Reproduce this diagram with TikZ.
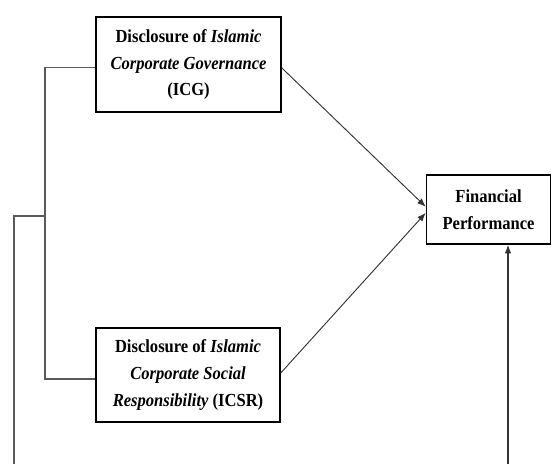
\documentclass[tikz,border=0pt]{standalone}
\usepackage{fontspec}
\setmainfont{Liberation Serif}[FakeStretch=0.9]
\usepackage{tikz}
\usetikzlibrary{arrows.meta,positioning}

\tikzset{
    varbox/.style={draw, line width=1.1pt, align=center, inner sep=0pt,
        font=\fontsize{13.8}{20}\selectfont\bfseries},
    link/.style={draw=black!65, line width=0.8pt},
    effect/.style={draw=black!80, line width=0.7pt, -{Latex[length=6.5pt,width=5pt]}}
}

\begin{document}
\begin{tikzpicture}[x=0.75pt,y=-0.75pt]
        \useasboundingbox (0,0) rectangle (552,464);

        % Variables
        \node[varbox, minimum width=138.75pt, minimum height=71.25pt] (icg) at (188.5,64.5)
            {Disclosure of \textit{Islamic}\\ \textit{Corporate Governance}\\ (ICG)};
        \node[varbox, minimum width=138pt, minimum height=70.5pt] (icsr) at (188,375)
            {Disclosure of \textit{Islamic}\\ \textit{Corporate Social}\\ \textit{Responsibility} (ICSR)};
        \node[varbox, minimum width=93pt, minimum height=51.75pt] (fp) at (488.5,209.5)
            {Financial\\ Performance};

        % Effects on performance
        \draw[effect] ([yshift=-2.5pt]icg.east) -- ([yshift=2pt]fp.west);
        \draw[effect] ([yshift=1.5pt]icsr.east) -- ([yshift=-2.5pt]fp.west);

        % Bracket on the left
        \coordinate (jn) at (45,216);
        \coordinate (lb) at (14,464);
        \draw[link] ([yshift=-2.5pt]icg.west) -| (jn) |- ([yshift=-3pt]icsr.west);
        \draw[link] (jn) -| (lb);

        % Line from below
        \coordinate (rb) at (508,464);
        \draw[effect, line width=0.9pt] (rb) -- (rb |- fp.south);
    \end{tikzpicture}
\end{document}
